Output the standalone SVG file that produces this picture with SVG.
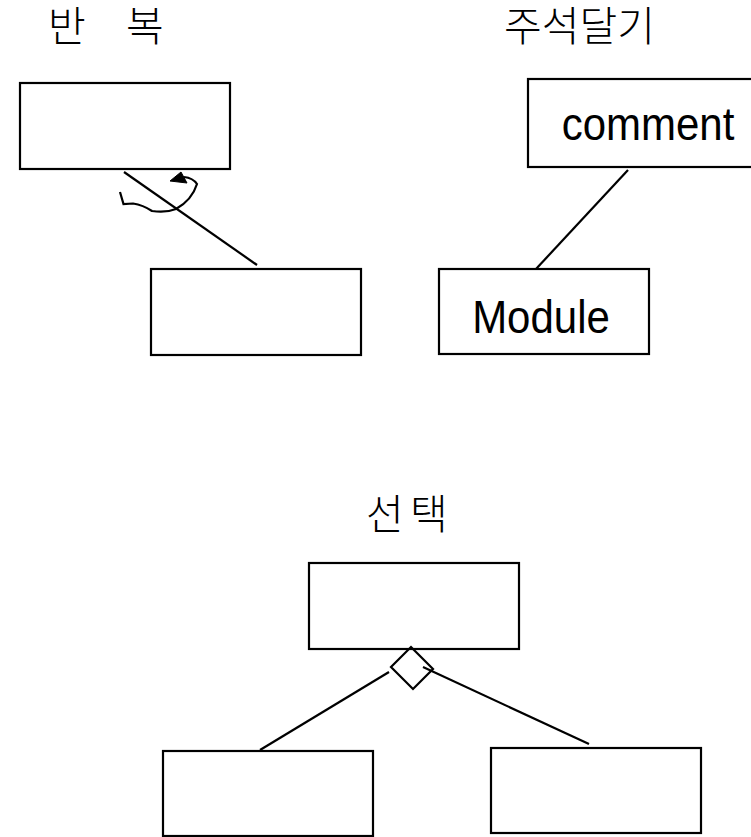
<svg xmlns="http://www.w3.org/2000/svg" width="751" height="837" viewBox="0 0 751 837">
  <style>
    .box { fill: #ffffff; stroke: #000000; stroke-width: 2.2; }
    .edge { fill: none; stroke: #000000; stroke-width: 2.2; }
    .title { font-family: "Noto Sans CJK KR", "Noto Sans", sans-serif; font-size: 41px; font-weight: 300; fill: #000000; }
    .label { font-family: "Liberation Sans", Arial, sans-serif; font-size: 42px; fill: #000000; text-anchor: middle; }
  </style>
  <rect width="751" height="837" fill="#ffffff"/>

  <!-- section titles -->
  <g id="titles">
    <text class="title" x="48" y="41">반</text>
    <text class="title" x="126" y="41">복</text>
    <text class="title" x="504" y="41">주석달기</text>
    <text class="title" x="366" y="529">선</text>
    <text class="title" x="410" y="529">택</text>
  </g>

  <!-- repetition -->
  <g id="repeat-parent">
    <rect class="box" x="20" y="83" width="210" height="86"/>
  </g>
  <g id="repeat-child">
    <rect class="box" x="151" y="269" width="210" height="86"/>
  </g>

  <!-- comment -->
  <g id="comment-note">
    <rect class="box" x="528" y="79" width="240" height="88"/>
    <text class="label" transform="translate(648 140) scale(1 1.12)">comment</text>
  </g>
  <g id="module">
    <rect class="box" x="439" y="269" width="210" height="85"/>
    <text class="label" transform="translate(541 333) scale(1 1.12)">Module</text>
  </g>

  <!-- selection -->
  <g id="select-parent">
    <rect class="box" x="309" y="563" width="210" height="86"/>
  </g>
  <g id="select-left">
    <rect class="box" x="163" y="751" width="210" height="85"/>
  </g>
  <g id="select-right">
    <rect class="box" x="491" y="748" width="210" height="85"/>
  </g>

  <g id="connectors">
    <!-- repetition link with loop mark -->
    <line class="edge" x1="124" y1="172" x2="257" y2="265"/>
    <path class="edge" d="M120,192 L123.5,204 L133,203.5 Q143,205 152,211 Q166,213 176,209 Q192,200 197,184 Q193,178 184,177"/>
    <polygon points="170,181 181,172 187,183" fill="#000000" stroke="#000000" stroke-width="1" stroke-linejoin="round"/>
    <!-- comment link -->
    <line class="edge" x1="628" y1="170" x2="536" y2="269"/>
    <!-- selection diamond and branches -->
    <polygon class="edge" points="411,647 433,669 413,689 391,667"/>
    <line class="edge" x1="389" y1="672" x2="260" y2="750"/>
    <line class="edge" x1="423" y1="667" x2="589" y2="744"/>
  </g>
</svg>
